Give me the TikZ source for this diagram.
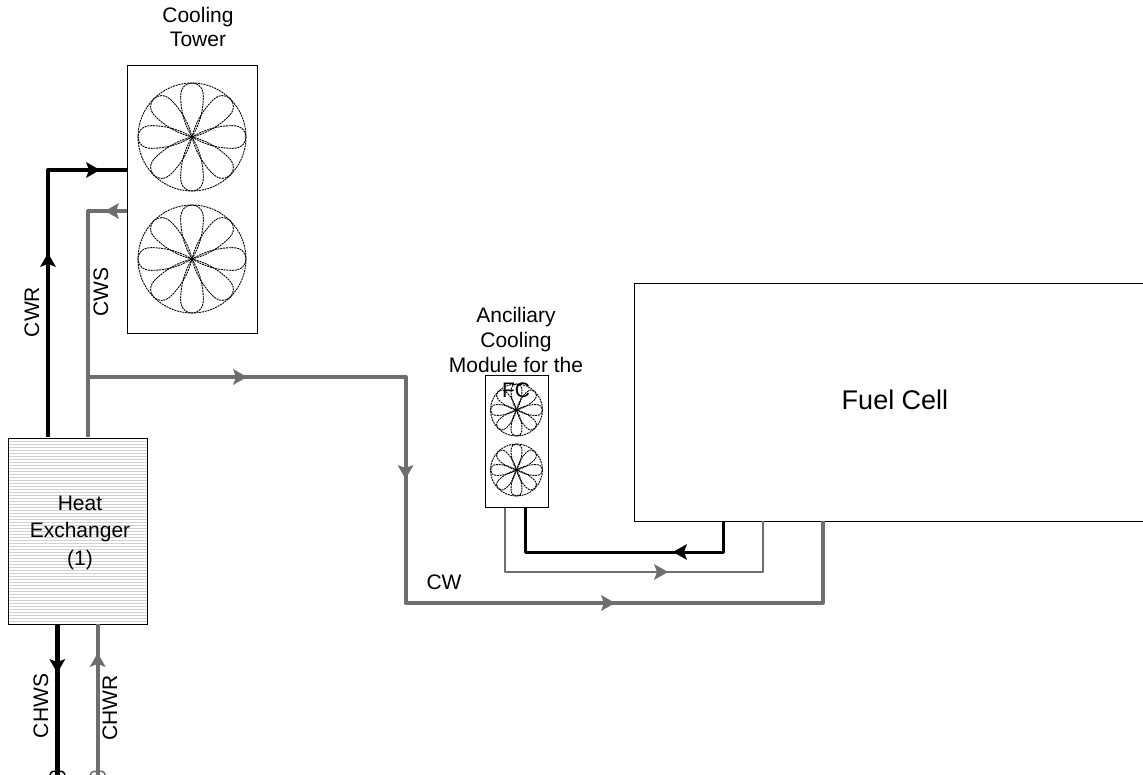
\documentclass[tikz,border=0pt]{standalone}
\usepackage{fontspec}
\setmainfont{Liberation Sans}
\usetikzlibrary{positioning,patterns}
\definecolor{pipegray}{RGB}{110,110,110}
\newcommand{\fan}[3]{
  \draw[fanline] (#1,#2) circle (#3);
  \foreach \a in {0,45,...,315} {
    \draw[fanline, shift={(#1,#2)}, rotate=\a, scale=#3]
      (0,0) .. controls (.2,.12) and (.45,.21) .. (.75,.21)
      .. controls (.92,.21) and (1,.11) .. (1,0)
      .. controls (1,-.11) and (.92,-.21) .. (.75,-.21)
      .. controls (.45,-.21) and (.2,-.12) .. (0,0);
  }
}
\tikzset{
box/.style={draw, line width=1pt, inner sep=0pt, align=center},
lbl/.style={align=center, font=\fontsize{21}{25}\selectfont},
fanline/.style={line width=.9pt, dash pattern=on 2pt off .8pt},
thick pipe/.style={line width=4.5pt, line join=round},
mid pipe/.style={line width=4pt, line join=round, pipegray}
}
\begin{document}
\begin{tikzpicture}[x=1pt,y=-1pt]
\useasboundingbox (0,0) rectangle (1143,775);
% equipment
\node[box, minimum width=129.5pt, minimum height=268pt] (tower) at (192.5,200) {};
\node[box, minimum width=139pt, minimum height=186pt, pattern=horizontal lines, pattern color=black!18] (hx) at (77.5,531) {};
\node[lbl, font=\fontsize{21}{27.5}\selectfont] (hxtext) at (80,532.5) {Heat\\Exchanger\\(1)};
\node[box, minimum width=63pt, minimum height=131pt] (acm) at (516.5,441.5) {};
\node[box, minimum width=520pt, minimum height=238pt, anchor=north west] (fc) at (634,283) {};
\node[font=\fontsize{27}{30}\selectfont] (fctext) at (895,400) {Fuel Cell};
\fan{192}{137}{54}
\fan{192}{259}{54}
\fan{516.5}{410}{26}
\fan{516.5}{470}{26}
\node[lbl, font=\fontsize{21}{24}\selectfont] (towertext) at (198,27) {Cooling\\Tower};
\node[lbl] (acmtext) at (516,352.5) {Anciliary\\Cooling\\Module for the\\FC};
% cooling water
\coordinate (cwr0) at (48,437);
\coordinate (cwr1) at (48,170);
\coordinate (cwr2) at (127,170);
\coordinate (cws0) at (88,437);
\coordinate (cws1) at (88,211);
\coordinate (cws2) at (127,211);
\coordinate (cw0) at (88,377);
\coordinate (cw1) at (405.5,377);
\coordinate (cw2) at (405.5,603);
\coordinate (cw3) at (822.5,603);
\coordinate (cw4) at (822.5,521);
\draw[thick pipe] (cwr0) -- (cwr1) -- (cwr2);
\draw[mid pipe] (cws0) -- (cws1) -- (cws2);
\draw[mid pipe] (cw0) -- (cw1) -- (cw2) -- (cw3) -- (cw4);
% chilled water
\coordinate (chws0) at (57.3,624);
\coordinate (chws1) at (57.3,775);
\coordinate (chwr0) at (97.7,624);
\coordinate (chwr1) at (97.7,775);
\draw[thick pipe] (chws0) -- (chws1);
\draw[mid pipe] (chwr0) -- (chwr1);
% fuel cell loop
\coordinate (a0) at (525,508);
\coordinate (a1) at (525,552);
\coordinate (a2) at (723.5,552);
\coordinate (a3) at (723.5,521);
\coordinate (b0) at (505,508);
\coordinate (b1) at (505,572);
\coordinate (b2) at (763,572);
\coordinate (b3) at (763,521);
\draw[line width=3pt, line join=round] (a0) -- (a1) -- (a2) -- (a3);
\draw[line width=2.3pt, pipegray, line join=round] (b0) -- (b1) -- (b2) -- (b3);
% arrow heads
\foreach \x/\y/\c/\d in {93/170/black/0, 112/211/pipegray/180, 48/260/black/90, 240/377/pipegray/0,
  405.5/472/pipegray/-90, 608/603/pipegray/0, 680/552/black/180, 661/572/pipegray/0,
  57.3/666/black/-90, 97.7/660/pipegray/90} {
  \fill[\c, shift={(\x,\y)}, rotate=\d] (-7,8) -- (7,0) -- (-7,-8) -- (-4,0) -- cycle;
}
% labels
\node[lbl, rotate=90] (cwrtext) at (32,312) {CWR};
\node[lbl, rotate=90] (cwstext) at (101,292) {CWS};
\node[lbl, rotate=90] (chwstext) at (41,706) {CHWS};
\node[lbl, rotate=90] (chwrtext) at (110,708) {CHWR};
\node[lbl] (cwtext) at (444,582) {CW};
% break marks
\draw[line width=1.5pt] (50,775) .. controls (51,771) and (54,770) .. (57.3,773) .. controls (60,770) and (64,771) .. (65,775);
\draw[line width=1.5pt, pipegray] (90.4,775) .. controls (91.4,771) and (94.4,770) .. (97.7,773) .. controls (100.4,770) and (104.4,771) .. (105.4,775);
\end{tikzpicture}
\end{document}
